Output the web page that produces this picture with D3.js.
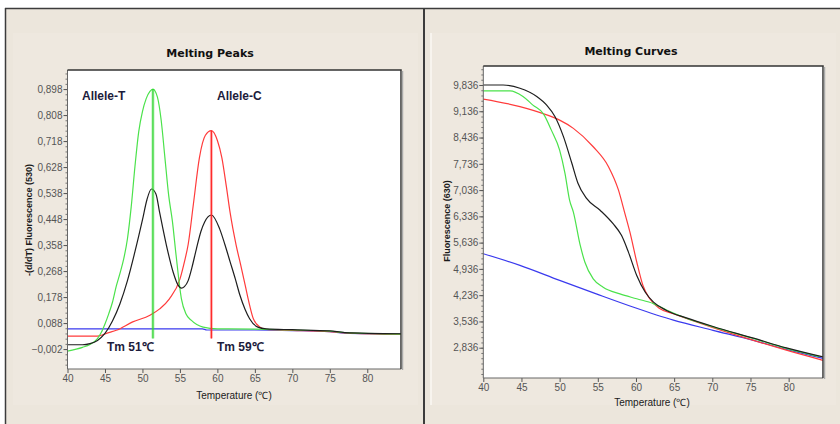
<!DOCTYPE html>
<html>
<head>
<meta charset="utf-8">
<script src="https://cdn.jsdelivr.net/npm/d3@7"></script>
<style>
  body { margin: 0; background: #fff; }
  svg text { font-family: "Liberation Sans", Arial, sans-serif; }
</style>
</head>
<body>
<script>
// melting peaks (left) - [temperature, -(d/dT) fluorescence]
var peakGreen = [[40,-0.009],[42,0.004],[43,0.014],[44,0.034],[44.5,0.055],[45,0.085],[45.5,0.12],[46,0.16],[46.5,0.215],[47,0.26],[47.5,0.31],[48,0.38],[48.5,0.49],[49,0.63],[49.5,0.75],[50,0.82],[50.5,0.865],[51,0.89],[51.4,0.898],[52,0.87],[52.5,0.79],[53,0.66],[53.5,0.53],[54,0.44],[54.5,0.32],[55.2,0.172],[55.8,0.12],[56.5,0.098],[58.1,0.074],[60,0.068],[65,0.067],[70,0.064],[75,0.06],[77,0.055],[84.5,0.05]];
var peakBlack = [[40,0.013],[42,0.013],[43,0.017],[44,0.028],[45,0.052],[46,0.095],[47,0.155],[48,0.235],[49,0.335],[50,0.445],[50.6,0.515],[51.2,0.552],[51.8,0.535],[52.3,0.47],[53.2,0.357],[54.1,0.264],[54.7,0.222],[55.2,0.209],[55.6,0.214],[56.1,0.235],[56.6,0.28],[57.2,0.345],[57.8,0.405],[58.3,0.438],[59.2,0.462],[60.3,0.414],[61,0.36],[61.7,0.3],[62.4,0.24],[63,0.185],[63.7,0.135],[64.3,0.103],[65.4,0.074],[66.5,0.068],[70,0.065],[75,0.061],[77,0.055],[84.5,0.051]];
var peakRed = [[40,0.043],[44,0.043],[45.5,0.055],[46.5,0.063],[48.7,0.092],[51,0.115],[52.3,0.137],[53.6,0.172],[55,0.24],[55.6,0.3],[56.1,0.36],[56.8,0.5],[57.6,0.66],[58.4,0.738],[59.2,0.754],[60,0.72],[60.6,0.66],[61.2,0.56],[61.7,0.47],[62.5,0.358],[63.1,0.29],[63.7,0.22],[64.3,0.15],[64.8,0.103],[65.7,0.074],[66.5,0.066],[70,0.063],[75,0.058],[77,0.054],[84.5,0.049]];
var peakBlue = [[40,0.068],[48,0.068],[58,0.068],[58.6,0.064],[65,0.064],[70,0.062],[75,0.058],[77,0.053],[84.5,0.05]];

// melting curves (right) - [temperature, fluorescence]
var curveBlack = [[40,9.836],[42.6,9.836],[44.8,9.75],[47,9.53],[48.3,9.3],[49.4,8.99],[50.5,8.46],[51.6,7.75],[52.4,7.22],[53.5,6.82],[55.3,6.5],[57,6.14],[58.1,5.83],[59,5.39],[60.1,4.76],[61.2,4.32],[62.3,4.05],[64,3.83],[66.6,3.63],[70.1,3.4],[75.4,3.09],[79.7,2.83],[84.5,2.59]];
var curveGreen = [[40,9.68],[43.5,9.68],[45.2,9.53],[46.5,9.3],[47.9,9.06],[48.9,8.64],[50,8.1],[50.7,7.48],[51.3,6.77],[51.8,6.45],[52.7,5.56],[53.3,5.12],[54.4,4.67],[55.7,4.45],[57.9,4.27],[60.1,4.14],[62.3,4.01],[64,3.84],[66.6,3.62],[70.1,3.39],[75.4,3.08],[79.7,2.82],[84,2.6]];
var curveRed = [[40,9.46],[44.8,9.26],[48.3,9.04],[50,8.9],[51.8,8.68],[54.4,8.19],[56.4,7.66],[57.7,7.04],[58.5,6.45],[59.2,5.92],[60.1,5.12],[60.9,4.5],[61.8,4.14],[63.1,3.88],[64.9,3.74],[70.1,3.37],[75.4,3.03],[79.7,2.77],[84.5,2.5]];
var curveBlue = [[40,5.34],[44.8,5.03],[50,4.63],[54.8,4.27],[59.6,3.92],[64.9,3.57],[70.1,3.3],[75.4,3.03],[79.7,2.79],[84.5,2.55]];

var xTicks = [40, 45, 50, 55, 60, 65, 70, 75, 80];
var peakTicks = [-0.002, 0.088, 0.178, 0.268, 0.358, 0.448, 0.538, 0.628, 0.718, 0.808, 0.898];
var curveTicks = [2.836, 3.536, 4.236, 4.936, 5.636, 6.336, 7.036, 7.736, 8.436, 9.136, 9.836];

var tmValues = [51.4, 59.2];
var tmTops = [0.898, 0.754];
var tmLabels = ["Tm 51\u2103", "Tm 59\u2103"];
var alleleLabels = ["Allele-T", "Allele-C"];

var W = 840, H = 424;
var svg = d3.select("body").append("svg").attr("width", W).attr("height", H);

// window chrome
svg.append("rect").attr("width", W).attr("height", H).attr("fill", "#ffffff");
svg.append("rect").attr("x", 5).attr("y", 8).attr("width", W - 5).attr("height", H - 8).attr("fill", "#ece6dc");
svg.append("rect").attr("x", 13).attr("y", 33).attr("width", 405).attr("height", 372).attr("fill", "#eee8df");
svg.append("rect").attr("x", 431).attr("y", 33).attr("width", 405).attr("height", 372).attr("fill", "#eee8df");
svg.append("line").attr("x1", 431).attr("x2", 431).attr("y1", 33).attr("y2", 405).attr("stroke", "#fbf9f5").attr("stroke-width", 1.5);
svg.append("line").attr("x1", 5).attr("x2", W).attr("y1", 8.5).attr("y2", 8.5).attr("stroke", "#3c3c3c").attr("stroke-width", 1.5);
svg.append("line").attr("x1", 5.5).attr("x2", 5.5).attr("y1", 8).attr("y2", H).attr("stroke", "#3c3c3c").attr("stroke-width", 1.5);
svg.append("line").attr("x1", 424).attr("x2", 424).attr("y1", 8).attr("y2", H).attr("stroke", "#3c3c3c").attr("stroke-width", 2);

var fmt = function(d) { return d3.format(".3f")(d).replace(".", ","); };

function panel(opt) {
    var x = d3.scaleLinear().domain([40, 84.5]).range([opt.left, opt.right]);
    var y = d3.scaleLinear().domain(opt.yDomain).range([opt.bottom, opt.top]);
    var g = svg.append("g");

    g.append("rect").attr("x", opt.left).attr("y", opt.top)
        .attr("width", opt.right - opt.left).attr("height", opt.bottom - opt.top)
        .attr("fill", "#fff");

    // title
    g.append("text").attr("x", opt.titleX).attr("y", opt.titleY)
        .attr("text-anchor", "middle").attr("dy", "0.35em")
        .style("font-family", "'DejaVu Sans', sans-serif").style("font-weight", "bold")
        .style("font-size", "11px").attr("fill", "#111").text(opt.title);

    // minor y ticks
    var step = (opt.yTicks[1] - opt.yTicks[0]) / 5;
    var minor = [];
    for (var v = opt.yTicks[0] - 5 * step; v < opt.yDomain[1]; v += step) {
        if (v > opt.yDomain[0]) minor.push(v);
    }
    g.append("g").attr("transform", "translate(" + opt.left + ",0)")
        .call(d3.axisLeft(y).tickValues(minor).tickSize(2).tickFormat(""))
        .call(function(a) { a.select(".domain").remove(); a.selectAll("line").attr("stroke", "#777"); });

    // y axis
    var ya = g.append("g").attr("transform", "translate(" + opt.left + ",0)")
        .call(d3.axisLeft(y).tickValues(opt.yTicks).tickSize(4).tickPadding(1).tickFormat(fmt));
    ya.select(".domain").remove();
    ya.selectAll("line").attr("stroke", "#555");
    ya.selectAll("text").style("font-size", "10px").attr("fill", "#555");

    // x axis
    var xa = g.append("g").attr("transform", "translate(0," + opt.bottom + ")")
        .call(d3.axisBottom(x).tickValues(xTicks).tickSize(4).tickPadding(2));
    xa.select(".domain").remove();
    xa.selectAll("line").attr("stroke", "#555");
    xa.selectAll("text").style("font-size", "10px").attr("fill", "#555");

    // axis titles
    g.append("text").attr("x", opt.xTitleX).attr("y", opt.xTitleY)
        .attr("text-anchor", "middle").attr("dy", "0.35em")
        .style("font-size", "10px").attr("fill", "#1a1a1a").text("Temperature (\u2103)");
    g.append("text")
        .attr("transform", "translate(" + opt.yTitleX + "," + opt.yTitleY + ") rotate(-90)")
        .attr("text-anchor", "middle").attr("dy", "0.35em")
        .style("font-size", "9px").style("font-weight", "bold").attr("fill", "#1a1a1a").text(opt.yTitle);

    var line = d3.line().x(function(d) { return x(d[0]); }).y(function(d) { return y(d[1]); })
        .curve(d3.curveMonotoneX);

    var clip = g.append("g");
    opt.series.forEach(function(s) {
        clip.append("path").datum(s.data).attr("d", line)
            .attr("fill", "none").attr("stroke", s.color).attr("stroke-width", 1.2);
    });

    // frame
    g.append("path")
        .attr("d", "M" + opt.left + "," + opt.top + "V" + opt.bottom + "H" + opt.right)
        .attr("fill", "none").attr("stroke", "#666").attr("stroke-width", 1);
    g.append("path")
        .attr("d", "M" + opt.left + "," + opt.top + "H" + opt.right + "V" + opt.bottom)
        .attr("fill", "none").attr("stroke", "#333").attr("stroke-width", 1.5);
    g.append("line").attr("x1", opt.right + 1.5).attr("x2", opt.right + 1.5)
        .attr("y1", opt.top + 1).attr("y2", opt.bottom + 1)
        .attr("stroke", "#aaa").attr("stroke-width", 1.5);

    return { x: x, y: y, g: g };
}

var left = panel({
    left: 67.5, right: 401, top: 70, bottom: 369,
    yDomain: [-0.071, 0.964], yTicks: peakTicks,
    title: "Melting Peaks", titleX: 210, titleY: 53,
    xTitleX: 234, xTitleY: 395,
    yTitle: "-(d/dT) Fluorescence (530)", yTitleX: 29, yTitleY: 220,
    series: [
        { data: peakBlue, color: "#3a3aee" },
        { data: peakRed, color: "#ff3b3b" },
        { data: peakGreen, color: "#4be24b" },
        { data: peakBlack, color: "#1e1e1e" }
    ]
});

// Tm markers
var tmColors = ["#2fd62f", "#ff2a2a"];
tmValues.forEach(function(t, i) {
    left.g.append("line").attr("x1", left.x(t)).attr("x2", left.x(t))
        .attr("y1", left.y(tmTops[i])).attr("y2", left.y(0.035))
        .attr("stroke", tmColors[i]).attr("stroke-opacity", 0.35).attr("stroke-width", 3);
    left.g.append("line").attr("x1", left.x(t)).attr("x2", left.x(t))
        .attr("y1", left.y(tmTops[i])).attr("y2", left.y(0.035))
        .attr("stroke", tmColors[i]).attr("stroke-width", 1.2);
});

var labelStyle = function(sel) {
    sel.style("font-size", "12px").style("font-weight", "bold").attr("fill", "#1c1c3c").attr("dy", "0.35em");
};
left.g.append("text").attr("x", 82).attr("y", 96).text(alleleLabels[0]).call(labelStyle);
left.g.append("text").attr("x", 217).attr("y", 96).text(alleleLabels[1]).call(labelStyle);
left.g.append("text").attr("x", 107).attr("y", 347).text(tmLabels[0]).call(labelStyle);
left.g.append("text").attr("x", 217).attr("y", 347).text(tmLabels[1]).call(labelStyle);

panel({
    left: 483.3, right: 823, top: 66, bottom: 378,
    yDomain: [2.029, 10.342], yTicks: curveTicks,
    title: "Melting Curves", titleX: 631, titleY: 51,
    xTitleX: 652, xTitleY: 402,
    yTitle: "Fluorescence (630)", yTitleX: 447, yTitleY: 221,
    series: [
        { data: curveBlue, color: "#3a3aee" },
        { data: curveRed, color: "#ff3b3b" },
        { data: curveGreen, color: "#4be24b" },
        { data: curveBlack, color: "#1e1e1e" }
    ]
});
</script>
</body>
</html>
